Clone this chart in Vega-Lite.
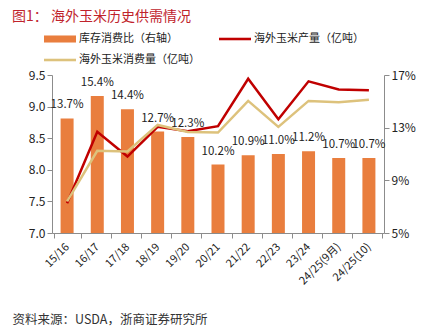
{
  "$schema": "https://vega.github.io/schema/vega-lite/v6.json",
  "width": 332,
  "height": 158,
  "autosize": {"type": "none"},
  "padding": {"left": 52, "top": 75, "right": 46, "bottom": 103},
  "background": "white",
  "config": {
    "font": "Noto Sans CJK SC",
    "view": {"stroke": null},
    "axis": {"labelFont": "Noto Sans CJK SC", "labelColor": "#222222", "domainColor": "#8c8c8c", "tickColor": "#8c8c8c", "grid": false, "labelFontSize": 12, "tickSize": 5, "labelOverlap": false}
  },
  "title": {"text": "图1：   海外玉米历史供需情况", "anchor": "start", "frame": "group", "dx": -40, "color": "#C0232C", "fontSize": 14, "fontWeight": "normal", "font": "Noto Sans CJK SC", "offset": -1},
  "data": {"values": [
    {"cat": "15/16", "ratio": 0.137, "海外玉米产量（亿吨）": 7.47, "海外玉米消费量（亿吨）": 7.50},
    {"cat": "16/17", "ratio": 0.154, "海外玉米产量（亿吨）": 8.60, "海外玉米消费量（亿吨）": 8.30},
    {"cat": "17/18", "ratio": 0.144, "海外玉米产量（亿吨）": 8.21, "海外玉米消费量（亿吨）": 8.29},
    {"cat": "18/19", "ratio": 0.127, "海外玉米产量（亿吨）": 8.68, "海外玉米消费量（亿吨）": 8.71},
    {"cat": "19/20", "ratio": 0.123, "海外玉米产量（亿吨）": 8.61, "海外玉米消费量（亿吨）": 8.60},
    {"cat": "20/21", "ratio": 0.102, "海外玉米产量（亿吨）": 8.69, "海外玉米消费量（亿吨）": 8.59},
    {"cat": "21/22", "ratio": 0.109, "海外玉米产量（亿吨）": 9.44, "海外玉米消费量（亿吨）": 9.09},
    {"cat": "22/23", "ratio": 0.110, "海外玉米产量（亿吨）": 8.80, "海外玉米消费量（亿吨）": 8.68},
    {"cat": "23/24", "ratio": 0.112, "海外玉米产量（亿吨）": 9.40, "海外玉米消费量（亿吨）": 9.09},
    {"cat": "24/25(9月)", "ratio": 0.107, "海外玉米产量（亿吨）": 9.27, "海外玉米消费量（亿吨）": 9.07},
    {"cat": "24/25(10)", "ratio": 0.107, "海外玉米产量（亿吨）": 9.26, "海外玉米消费量（亿吨）": 9.11}
  ]},
  "layer": [
    {
      "layer": [
        {
          "mark": {"type": "bar", "size": 13, "color": "#E97E3E", "clip": true},
          "encoding": {
            "x": {"field": "cat", "type": "nominal", "sort": null, "axis": {"title": "资料来源：USDA，浙商证券研究所", "labelAngle": -45, "labelAlign": "right", "labelBaseline": "middle", "labelLimit": 0, "labelPadding": 7, "tickBand": "extent", "labelFontSize": 11, "titleAnchor": "start", "titleX": -40, "titleY": 86, "titleAlign": "left", "titleBaseline": "middle", "titleFontSize": 12.5, "titleFontWeight": "normal", "titleColor": "#333333"}},
            "y": {"field": "ratio", "type": "quantitative", "scale": {"domain": [0.05, 0.17], "nice": false, "zero": false}, "axis": {"orient": "right", "values": [0.05, 0.07, 0.09, 0.11, 0.13, 0.15, 0.17], "format": ".0%", "title": null}},
            "y2": {"datum": 0.05},
            "color": {"datum": "库存消费比（右轴）", "type": "nominal", "scale": {"domain": ["库存消费比（右轴）", "海外玉米产量（亿吨）", "海外玉米消费量（亿吨）"], "range": ["#E97E3E", "#C00000", "#DDC27C"]}}
          }
        },
        {
          "mark": {"type": "text", "baseline": "bottom", "dy": -8, "fontSize": 11.5, "color": "#222222"},
          "encoding": {
            "x": {"field": "cat", "type": "nominal", "sort": null},
            "y": {"field": "ratio", "type": "quantitative"},
            "text": {"field": "ratio", "type": "quantitative", "format": ".1%"}
          }
        }
      ]
    },
    {
      "transform": [{"fold": ["海外玉米产量（亿吨）", "海外玉米消费量（亿吨）"], "as": ["series", "v"]}],
      "mark": {"type": "line", "strokeWidth": 2.5},
      "encoding": {
        "x": {"field": "cat", "type": "nominal", "sort": null},
        "y": {"field": "v", "type": "quantitative", "scale": {"domain": [7, 9.5], "nice": false, "zero": false}, "axis": {"orient": "left", "values": [7, 7.5, 8, 8.5, 9, 9.5], "format": ".1f", "title": null}},
        "color": {"field": "series", "type": "nominal", "scale": {"domain": ["库存消费比（右轴）", "海外玉米产量（亿吨）", "海外玉米消费量（亿吨）"], "range": ["#E97E3E", "#C00000", "#DDC27C"]},
          "legend": {"orient": "none", "legendX": -8, "legendY": -52, "columns": 2, "title": null, "values": ["库存消费比（右轴）", "海外玉米消费量（亿吨）", "海外玉米产量（亿吨）"], "labelFontSize": 11, "labelFont": "Noto Sans CJK SC", "labelColor": "#222222", "symbolSize": 1024, "symbolType": "M-1,-0.22H1V0.22H-1Z", "columnPadding": 19, "rowPadding": 0, "labelOffset": 3,
            "encode": {"symbols": {"update": {"shape": {"signal": "datum.value === '库存消费比（右轴）' ? 'M-1,-0.22H1V0.22H-1Z' : 'M-1,-0.08H1V0.08H-1Z'"}, "fill": {"scale": "color", "field": "value"}, "stroke": {"value": "transparent"}, "strokeWidth": {"value": 0}, "opacity": {"value": 1}}}}}
        }
      }
    }
  ],
  "resolve": {"scale": {"y": "independent"}}
}
